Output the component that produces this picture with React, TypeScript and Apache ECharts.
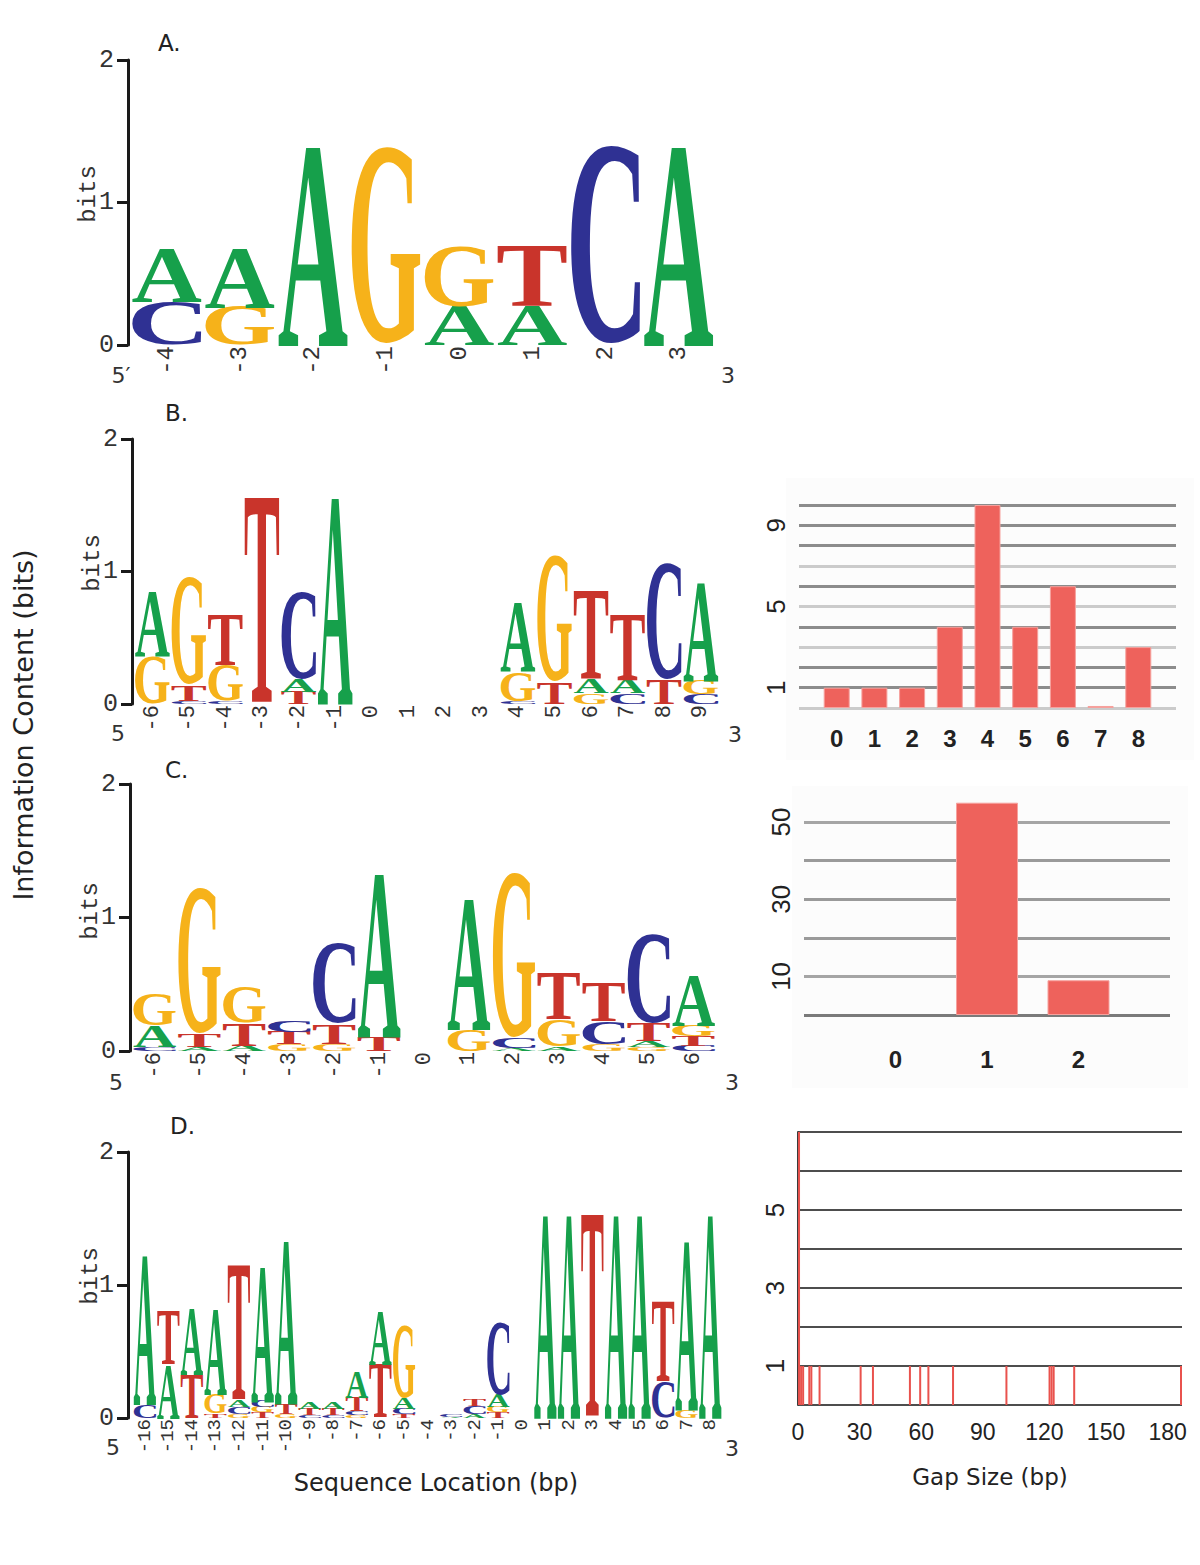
import React, { useEffect, useRef } from 'react';
import * as echarts from 'echarts';

type Stack = [string, number][];

const LETTERS = ['A', 'C', 'G', 'T'];
const LETTER_COLORS = ['#16a04b', '#2f3193', '#f6b21a', '#c9342b'];
const LETTER_FONT_FAMILY = '"Liberation Serif"';

// ---------- Panel A logo ----------
const logoA_positions = ['-4', '-3', '-2', '-1', '0', '1', '2', '3'];
const logoA_stacks: Stack[] = [
  [['C', 0.3], ['A', 0.37]],
  [['G', 0.27], ['A', 0.41]],
  [['A', 1.39]],
  [['G', 1.39]],
  [['A', 0.27], ['G', 0.42]],
  [['A', 0.27], ['T', 0.42]],
  [['C', 1.4]],
  [['A', 1.39]],
];

// ---------- Panel B logo ----------
const logoB_positions = ['-6', '-5', '-4', '-3', '-2', '-1', '0', '1', '2', '3', '4', '5', '6', '7', '8', '9'];
const logoB_stacks: Stack[] = [
  [['G', 0.36], ['A', 0.48]],
  [['C', 0.02], ['T', 0.12], ['G', 0.82]],
  [['C', 0.02], ['G', 0.27], ['T', 0.38]],
  [['T', 1.55]],
  [['T', 0.09], ['A', 0.09], ['C', 0.66]],
  [['A', 1.55]],
  [],
  [],
  [],
  [],
  [['C', 0.02], ['G', 0.22], ['A', 0.52]],
  [['T', 0.16], ['G', 0.96]],
  [['G', 0.08], ['A', 0.1], ['T', 0.66]],
  [['C', 0.08], ['A', 0.1], ['T', 0.5]],
  [['T', 0.18], ['C', 0.88]],
  [['C', 0.07], ['G', 0.11], ['A', 0.74]],
];

// ---------- Panel C logo ----------
const logoC_positions = ['-6', '-5', '-4', '-3', '-2', '-1', '0', '1', '2', '3', '4', '5', '6'];
const logoC_stacks: Stack[] = [
  [['C', 0.03], ['A', 0.16], ['G', 0.24]],
  [['A', 0.03], ['T', 0.09], ['G', 1.1]],
  [['A', 0.04], ['T', 0.17], ['G', 0.27]],
  [['G', 0.05], ['T', 0.09], ['C', 0.08]],
  [['G', 0.05], ['T', 0.15], ['C', 0.6]],
  [['T', 0.1], ['A', 1.22]],
  [],
  [['G', 0.16], ['A', 0.97]],
  [['A', 0.02], ['C', 0.07], ['G', 1.24]],
  [['A', 0.03], ['G', 0.2], ['T', 0.34]],
  [['G', 0.05], ['C', 0.17], ['T', 0.28]],
  [['G', 0.03], ['A', 0.04], ['T', 0.13], ['C', 0.67]],
  [['C', 0.04], ['T', 0.07], ['G', 0.08], ['A', 0.38]],
];

// ---------- Panel D logo ----------
const logoD_positions = [
  '-16', '-15', '-14', '-13', '-12', '-11', '-10', '-9', '-8', '-7', '-6', '-5', '-4',
  '-3', '-2', '-1', '0', '1', '2', '3', '4', '5', '6', '7', '8',
];
const logoD_stacks: Stack[] = [
  [['C', 0.1], ['A', 1.11]],
  [['A', 0.4], ['T', 0.4]],
  [['T', 0.32], ['A', 0.49]],
  [['T', 0.03], ['G', 0.15], ['A', 0.64]],
  [['G', 0.03], ['C', 0.05], ['A', 0.05], ['T', 1.01]],
  [['T', 0.04], ['G', 0.04], ['C', 0.05], ['A', 1.01]],
  [['G', 0.03], ['T', 0.07], ['A', 1.22]],
  [['C', 0.02], ['T', 0.05], ['A', 0.05]],
  [['C', 0.02], ['T', 0.05], ['A', 0.05]],
  [['G', 0.02], ['C', 0.03], ['T', 0.1], ['A', 0.2]],
  [['T', 0.4], ['A', 0.4]],
  [['T', 0.03], ['C', 0.04], ['A', 0.08], ['G', 0.55]],
  [],
  [['A', 0.01], ['C', 0.02]],
  [['A', 0.03], ['C', 0.06], ['T', 0.05]],
  [['T', 0.04], ['G', 0.04], ['A', 0.09], ['C', 0.55]],
  [],
  [['A', 1.52]],
  [['A', 1.52]],
  [['T', 1.52]],
  [['A', 1.52]],
  [['A', 1.52]],
  [['C', 0.27], ['T', 0.6]],
  [['G', 0.06], ['A', 1.26]],
  [['A', 1.52]],
];

const logo_yTicks = [0, 1, 2];

// ---------- Histograms ----------
const histB_gaps = [0, 1, 2, 3, 4, 5, 6, 7, 8];
const histB_counts = [1, 1, 1, 4, 10, 4, 6, 0.1, 3];
const histB_yLabels = [1, 5, 9];

const histC_gaps = [0, 1, 2];
const histC_counts = [0, 55, 9];
const histC_yLabels = [10, 30, 50];

const histD_gaps = [0, 1, 2, 5, 6, 10, 30, 36, 54, 59, 63, 75, 101, 122, 123, 124, 134, 186];
const histD_counts = [7, 1, 1, 1, 1, 1, 1, 1, 1, 1, 1, 1, 1, 1, 1, 1, 1, 1];
const histD_xLabels = [0, 30, 60, 90, 120, 150, 180];
const histD_yLabels = [1, 3, 5];

const BAR_RED = '#ee625c';

type LetterMetric = { cx: number; cy: number; w: number; h: number };

function measureLetters(): LetterMetric[] {
  const canvas = document.createElement('canvas');
  const ctx = canvas.getContext('2d');
  return LETTERS.map((L) => {
    let m: any = null;
    if (ctx) {
      ctx.font = `bold 100px ${LETTER_FONT_FAMILY}`;
      m = ctx.measureText(L);
    }
    const width = m ? m.width : 72;
    const aL = m && m.actualBoundingBoxLeft != null ? m.actualBoundingBoxLeft : -1;
    const aR = m && m.actualBoundingBoxRight != null ? m.actualBoundingBoxRight : width - 1;
    const aA = m && m.actualBoundingBoxAscent != null ? m.actualBoundingBoxAscent : 66;
    const aD = m && m.actualBoundingBoxDescent != null ? m.actualBoundingBoxDescent : 0;
    const fA = m && m.fontBoundingBoxAscent != null ? m.fontBoundingBoxAscent : 89;
    const fD = m && m.fontBoundingBoxDescent != null ? m.fontBoundingBoxDescent : 22;
    const central = (fA - fD) / 2;
    const left = -width / 2 - aL;
    const right = -width / 2 + aR;
    const top = central - aA;
    const bottom = central + aD;
    return { cx: (left + right) / 2, cy: (top + bottom) / 2, w: right - left, h: bottom - top };
  });
}

function buildLetters(stacks: Stack[]) {
  const out: number[][] = [];
  stacks.forEach((st, i) => {
    let y = 0;
    st.forEach(([L, h]) => {
      out.push([i, y, y + h, LETTERS.indexOf(L)]);
      y += h;
    });
  });
  return out;
}

export default function App() {
  const ref = useRef<HTMLDivElement>(null);

  useEffect(() => {
    document.body.style.margin = '0';
    if (!ref.current) return;
    const chart = echarts.init(ref.current, undefined, { renderer: 'svg' });
    const metrics = measureLetters();

    const renderLetter = (params: any, api: any) => {
      const c = api.value(0);
      const y0 = api.value(1);
      const y1 = api.value(2);
      const li = api.value(3);
      const pb = api.coord([c, y0]);
      const pt = api.coord([c, y1]);
      const band = api.size([1, 0])[0];
      const tw = band * 0.96;
      const th = pb[1] - pt[1];
      if (th <= 0.2) return null;
      const m = metrics[li];
      const sx = tw / m.w;
      const sy = th / m.h;
      return {
        type: 'text',
        x: pb[0] - sx * m.cx,
        y: (pb[1] + pt[1]) / 2 - sy * m.cy,
        scaleX: sx,
        scaleY: sy,
        silent: true,
        style: {
          text: LETTERS[li],
          x: 0,
          y: 0,
          font: `bold 100px ${LETTER_FONT_FAMILY}`,
          fill: LETTER_COLORS[li],
          align: 'center',
          verticalAlign: 'middle',
          textAlign: 'center',
          textVerticalAlign: 'middle',
        },
      };
    };

    const logos = [
      { pos: logoA_positions, stacks: logoA_stacks, left: 130, top: 60, width: 585, height: 285, offset: 2, labelSize: 24 },
      { pos: logoB_positions, stacks: logoB_stacks, left: 134, top: 439, width: 585, height: 265, offset: 2, labelSize: 22 },
      { pos: logoC_positions, stacks: logoC_stacks, left: 132, top: 784, width: 584, height: 267, offset: 2, labelSize: 22 },
      { pos: logoD_positions, stacks: logoD_stacks, left: 133, top: 1152, width: 589, height: 266, offset: 5, labelSize: 19 },
    ];

    const grids: any[] = [];
    const xAxes: any[] = [];
    const yAxes: any[] = [];
    const series: any[] = [];

    logos.forEach((lg, i) => {
      grids.push({ left: lg.left, top: lg.top, width: lg.width, height: lg.height });
      xAxes.push({
        gridIndex: i,
        type: 'category',
        data: lg.pos,
        boundaryGap: true,
        axisLine: { show: false },
        axisTick: { show: false },
        splitLine: { show: false },
        axisLabel: {
          interval: 0,
          rotate: 90,
          margin: 1,
          fontFamily: 'Liberation Mono',
          fontSize: lg.labelSize,
          color: '#333',
        },
      });
      yAxes.push({
        gridIndex: i,
        type: 'value',
        min: logo_yTicks[0],
        max: logo_yTicks[logo_yTicks.length - 1],
        interval: 1,
        offset: lg.offset,
        axisLine: { show: true, lineStyle: { color: '#1a1a1a', width: 3 } },
        axisTick: { show: true, length: 11, lineStyle: { color: '#1a1a1a', width: 3 } },
        splitLine: { show: false },
        axisLabel: { margin: 14, fontFamily: 'Liberation Mono', fontSize: 25, color: '#333' },
      });
      series.push({
        type: 'custom',
        xAxisIndex: i,
        yAxisIndex: i,
        renderItem: renderLetter,
        encode: { x: 0, y: [1, 2] },
        data: buildLetters(lg.stacks),
        clip: false,
        silent: true,
      });
    });

    // Histogram B (grid 4)
    grids.push({ left: 799, top: 505, width: 377, height: 203 });
    xAxes.push({
      gridIndex: 4,
      type: 'value',
      min: -1,
      max: 9,
      interval: 1,
      axisLine: { show: false },
      axisTick: { show: false },
      splitLine: { show: false },
      axisLabel: {
        margin: 18,
        formatter: (v: number) => (histB_gaps.includes(v) ? String(v) : ''),
        fontFamily: 'Liberation Sans',
        fontWeight: 'bold',
        fontSize: 24,
        color: '#222',
      },
    });
    const lt = '#cbcbcb';
    const dk = '#8c8c8c';
    yAxes.push({
      gridIndex: 4,
      type: 'value',
      min: 0,
      max: 10,
      interval: 1,
      axisLine: { show: false },
      axisTick: { show: false },
      splitLine: { show: true, lineStyle: { color: [lt, dk, dk, lt, dk, lt, dk, lt, dk, dk, dk], width: 3 } },
      axisLabel: {
        rotate: 90,
        margin: 10,
        formatter: (v: number) => (histB_yLabels.includes(v) ? String(v) : ''),
        fontFamily: 'Liberation Sans',
        fontSize: 26,
        color: '#222',
      },
    });
    series.push({
      type: 'bar',
      xAxisIndex: 4,
      yAxisIndex: 4,
      barWidth: 26,
      data: histB_gaps.map((g, k) => [g, histB_counts[k]]).filter((d) => d[1] > 0),
      itemStyle: { color: BAR_RED, borderColor: '#f6a19d', borderWidth: 1 },
      silent: true,
    });

    // Histogram C (grid 5)
    grids.push({ left: 804, top: 822, width: 366, height: 193 });
    xAxes.push({
      gridIndex: 5,
      type: 'value',
      min: -1,
      max: 3,
      interval: 1,
      axisLine: { show: false },
      axisTick: { show: false },
      splitLine: { show: false },
      axisLabel: {
        margin: 32,
        formatter: (v: number) => (histC_gaps.includes(v) ? String(v) : ''),
        fontFamily: 'Liberation Sans',
        fontWeight: 'bold',
        fontSize: 24,
        color: '#222',
      },
    });
    yAxes.push({
      gridIndex: 5,
      type: 'value',
      min: 0,
      max: 50,
      interval: 10,
      axisLine: { show: false },
      axisTick: { show: false },
      splitLine: { show: true, lineStyle: { color: ['#7a7a7a', '#a5a5a5', '#9a9a9a', '#9a9a9a', '#9a9a9a', '#a5a5a5'], width: 3 } },
      axisLabel: {
        rotate: 90,
        margin: 10,
        formatter: (v: number) => (histC_yLabels.includes(v) ? String(v) : ''),
        fontFamily: 'Liberation Sans',
        fontSize: 26,
        color: '#222',
      },
    });
    series.push({
      type: 'bar',
      xAxisIndex: 5,
      yAxisIndex: 5,
      barWidth: 62,
      clip: false,
      data: histC_gaps.map((g, k) => [g, histC_counts[k]]).filter((d) => d[1] > 0),
      itemStyle: { color: BAR_RED, borderColor: '#f6a19d', borderWidth: 1 },
      silent: true,
    });

    // Histogram D (grid 6)
    grids.push({ left: 798, top: 1132, width: 384, height: 273 });
    xAxes.push({
      gridIndex: 6,
      type: 'value',
      min: 0,
      max: 187,
      interval: 30,
      name: 'Gap Size (bp)',
      nameLocation: 'middle',
      nameGap: 60,
      nameTextStyle: { fontFamily: 'DejaVu Sans', fontSize: 23, color: '#222' },
      axisLine: { show: false },
      axisTick: { show: false },
      splitLine: { show: false },
      axisLabel: {
        margin: 15,
        formatter: (v: number) => (histD_xLabels.includes(v) ? String(v) : ''),
        fontFamily: 'Liberation Sans',
        fontSize: 23,
        color: '#222',
        showMaxLabel: false,
      },
    });
    yAxes.push({
      gridIndex: 6,
      type: 'value',
      min: 0,
      max: 7,
      interval: 1,
      axisLine: { show: true, lineStyle: { color: '#3a3a3a', width: 2 } },
      axisTick: { show: false },
      splitLine: { show: true, lineStyle: { color: '#4d4d4d', width: 2 } },
      axisLabel: {
        rotate: 90,
        margin: 10,
        formatter: (v: number) => (histD_yLabels.includes(v) ? String(v) : ''),
        fontFamily: 'Liberation Sans',
        fontSize: 26,
        color: '#222',
      },
    });
    series.push({
      type: 'bar',
      xAxisIndex: 6,
      yAxisIndex: 6,
      barWidth: 2,
      data: histD_gaps.map((g, k) => [g + 0.5, histD_counts[k]]),
      itemStyle: { color: '#e9524d' },
      silent: true,
    });

    const txt = (text: string, x: number, y: number, font: string, extra: any = {}) => ({
      type: 'text',
      x,
      y,
      silent: true,
      ...extra,
      style: {
        text,
        x: 0,
        y: 0,
        font,
        fill: extra.fill || '#222',
        textAlign: extra.align || 'center',
        textVerticalAlign: 'middle',
      },
    });

    const sans = (s: number) => `${s}px "DejaVu Sans"`;
    const mono = (s: number) => `${s}px "Liberation Mono"`;
    const rot = Math.PI / 2;

    const graphics: any[] = [
      { type: 'rect', z: -100, shape: { x: 786, y: 478, width: 408, height: 282 }, style: { fill: '#fcfcfc' }, silent: true },
      { type: 'rect', z: -100, shape: { x: 792, y: 786, width: 396, height: 302 }, style: { fill: '#fcfcfc' }, silent: true },
      txt('Information Content (bits)', 23, 725, sans(27), { rotation: rot }),
      txt('Sequence Location (bp)', 436, 1483, sans(24)),
      txt('A.', 158, 43, sans(23), { align: 'left' }),
      txt('B.', 165, 413, sans(23), { align: 'left' }),
      txt('C.', 165, 770, sans(23), { align: 'left' }),
      txt('D.', 170, 1126, sans(23), { align: 'left' }),
      txt('bits', 88, 194, mono(24), { rotation: rot, fill: '#333' }),
      txt('bits', 92, 563, mono(24), { rotation: rot, fill: '#333' }),
      txt('bits', 90, 911, mono(24), { rotation: rot, fill: '#333' }),
      txt('bits', 90, 1276, mono(24), { rotation: rot, fill: '#333' }),
      txt('5\u2032', 121, 375, sans(22), { fill: '#333' }),
      txt('3', 728, 375, sans(22), { fill: '#333' }),
      txt('5', 118, 733, sans(22), { fill: '#333' }),
      txt('3', 735, 734, sans(22), { fill: '#333' }),
      txt('5', 116, 1082, sans(22), { fill: '#333' }),
      txt('3', 732, 1082, sans(22), { fill: '#333' }),
      txt('5', 113, 1447, sans(22), { fill: '#333' }),
      txt('3', 732, 1448, sans(22), { fill: '#333' }),
    ];

    chart.setOption({
      animation: false,
      backgroundColor: '#ffffff',
      grid: grids,
      xAxis: xAxes,
      yAxis: yAxes,
      series,
      graphic: { elements: graphics },
    });

    return () => chart.dispose();
  }, []);

  return (
    <div
      ref={ref}
      style={{ position: 'absolute', left: 0, top: 0, width: 1200, height: 1565 }}
    />
  );
}
